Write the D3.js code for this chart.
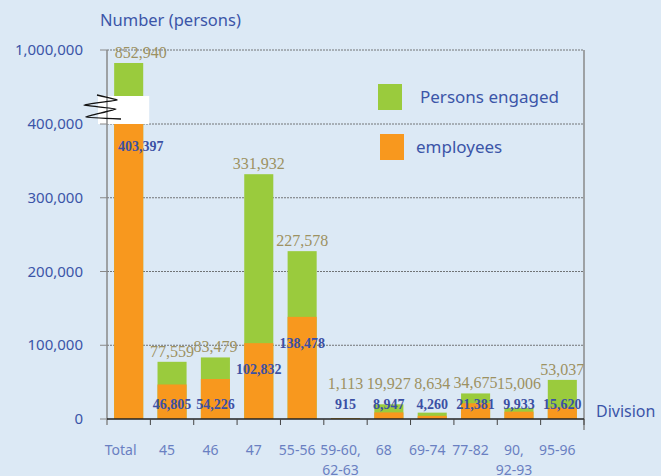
<!DOCTYPE html>
<html>
<head>
<meta charset="utf-8">
<script src="https://cdn.jsdelivr.net/npm/d3@7"></script>
<style>
  body { margin: 0; background: #dce9f5; }
  svg { display: block; }
</style>
</head>
<body>
<svg width="661" height="476"></svg>
<script>
// data
const divisions = ['Total', '45', '46', '47', '55-56', '59-60,|62-63', '68', '69-74', '77-82', '90,|92-93', '95-96'];
const personsEngaged = [852940, 77559, 83479, 331932, 227578, 1113, 19927, 8634, 34675, 15006, 53037];
const employees = [403397, 46805, 54226, 102832, 138478, 915, 8947, 4260, 21381, 9933, 15620];
const lowTicks = [0, 100000, 200000, 300000, 400000];
const highTicks = [1000000];

const green = '#9acb3d';
const orange = '#f8981e';
const blueText = '#3b55a8';
const sans = '"Noto Sans", "DejaVu Sans", sans-serif';
const serif = '"Liberation Serif", "DejaVu Serif", serif';
const fmt = d3.format(',');

const svg = d3.select('svg');

const left = 107, right = 584, bottom = 419;

const x = d3.scaleBand()
  .domain(divisions)
  .range([left, right])
  .paddingInner(0.33)
  .paddingOuter(0.165);

// broken y axis: lower part 0..400k, upper part 400k..1M
const yLow = d3.scaleLinear().domain([0, 400000]).range([bottom, 124]);
const yHigh = d3.scaleLinear().domain([400000, 1000000]).range([103, 50]);
const y = v => v <= 400000 ? yLow(v) : yHigh(v);

// gridlines
const grid = svg.append('g');
grid.selectAll('line')
  .data(lowTicks.slice(1).map(yLow).concat(highTicks.map(yHigh)))
  .enter().append('line')
    .attr('x1', left).attr('x2', right)
    .attr('y1', d => d).attr('y2', d => d)
    .attr('stroke', '#555')
    .attr('stroke-width', 0.8)
    .attr('stroke-dasharray', '2,1');

// right frame line
svg.append('line')
  .attr('x1', right).attr('x2', right)
  .attr('y1', yHigh(1000000)).attr('y2', bottom + 11)
  .attr('stroke', '#888').attr('stroke-width', 1.5);

// bars: green persons engaged behind, orange employees in front
const bars = svg.append('g');
bars.selectAll('.eng')
  .data(personsEngaged)
  .enter().append('rect')
    .attr('class', 'eng')
    .attr('x', (d, i) => x(divisions[i]))
    .attr('width', x.bandwidth())
    .attr('y', d => y(d))
    .attr('height', d => bottom - y(d))
    .attr('fill', green);

bars.selectAll('.emp')
  .data(employees)
  .enter().append('rect')
    .attr('class', 'emp')
    .attr('x', (d, i) => x(divisions[i]))
    .attr('width', x.bandwidth())
    .attr('y', d => y(d))
    .attr('height', d => bottom - y(d))
    .attr('fill', orange);

// axis break box
svg.append('rect')
  .attr('x', left - 9)
  .attr('y', yHigh(400000) - 7)
  .attr('width', x(divisions[0]) + x.bandwidth() + 6 - (left - 9))
  .attr('height', yLow(400000) - yHigh(400000) + 7)
  .attr('fill', '#fff');

// y axis line
svg.append('line')
  .attr('x1', left).attr('x2', left)
  .attr('y1', yHigh(1000000)).attr('y2', bottom + 6)
  .attr('stroke', '#888').attr('stroke-width', 1.5);

// y tick marks and labels
const yTicks = lowTicks.map(v => ({ v, y: yLow(v) }))
  .concat(highTicks.map(v => ({ v, y: yHigh(v) })));
const yt = svg.append('g');
yt.selectAll('line')
  .data(yTicks)
  .enter().append('line')
    .attr('x1', left - 7).attr('x2', left)
    .attr('y1', d => d.y).attr('y2', d => d.y)
    .attr('stroke', '#888').attr('stroke-width', 1);
yt.selectAll('text')
  .data(yTicks)
  .enter().append('text')
    .attr('x', 83)
    .attr('y', d => d.y + 5)
    .attr('text-anchor', 'end')
    .attr('font-family', sans)
    .attr('font-size', 15)
    .attr('fill', blueText)
    .text(d => fmt(d.v));

// break squiggle over the axis
const sq = [[97, 95], [117, 100], [84, 105], [116, 109], [86, 117], [121, 119]];
svg.append('path')
  .attr('d', d3.line().curve(d3.curveCardinal.tension(0.7))(sq))
  .attr('fill', 'none')
  .attr('stroke', '#111')
  .attr('stroke-width', 1.3);

// x axis
svg.append('line')
  .attr('x1', left).attr('x2', right)
  .attr('y1', bottom).attr('y2', bottom)
  .attr('stroke', '#222').attr('stroke-width', 1.5);

const xTickPos = divisions.map(d => x(d) - x.step() * x.paddingInner() / 2).slice(1).concat([right]);
svg.append('g').selectAll('line')
  .data(xTickPos)
  .enter().append('line')
    .attr('x1', d => d).attr('x2', d => d)
    .attr('y1', bottom).attr('y2', bottom + 6)
    .attr('stroke', '#444').attr('stroke-width', 1);

const labelX = (d, i) => x(d) + x.bandwidth() / 2 - (i === 0 ? 8 : 5);
const xl = svg.append('g').selectAll('text')
  .data(divisions)
  .enter().append('text')
    .attr('x', labelX)
    .attr('y', 455)
    .attr('text-anchor', 'middle')
    .attr('font-family', sans)
    .attr('font-size', 14)
    .attr('fill', '#6a80c2');
xl.each(function (d, i) {
  const parts = d.split('|');
  d3.select(this).selectAll('tspan')
    .data(parts)
    .enter().append('tspan')
      .attr('x', labelX(d, i))
      .attr('dy', (p, j) => j === 0 ? 0 : 20)
      .text(p => p);
});

// value labels
const empLabelY = employees.map(v => Math.min(y(v) + 26, 404));
svg.append('g').selectAll('text')
  .data(employees)
  .enter().append('text')
    .attr('x', (d, i) => x(divisions[i]) + x.bandwidth() / 2 + (i === 0 ? 12 : 0))
    .attr('y', (d, i) => (i === 0 ? yLow(400000) + 22 : empLabelY[i]) + 5)
    .attr('text-anchor', 'middle')
    .attr('font-family', serif)
    .attr('font-weight', 'bold')
    .attr('font-size', 14)
    .attr('fill', '#3b50a4')
    .text(d => fmt(d));

svg.append('g').selectAll('text')
  .data(personsEngaged)
  .enter().append('text')
    .attr('x', (d, i) => x(divisions[i]) + x.bandwidth() / 2 + (i === 0 ? 12 : 0))
    .attr('y', (d, i) => Math.min(y(d) - 10, empLabelY[i] - 20) + 5)
    .attr('text-anchor', 'middle')
    .attr('font-family', serif)
    .attr('font-size', 16)
    .attr('fill', '#9c9162')
    .text(d => fmt(d));

// axis titles
svg.append('text')
  .attr('x', 100).attr('y', 26)
  .attr('font-family', sans).attr('font-size', 16.5)
  .attr('fill', blueText)
  .text('Number (persons)');
svg.append('text')
  .attr('x', 596).attr('y', 417)
  .attr('font-family', sans).attr('font-size', 16)
  .attr('fill', blueText)
  .text('Division');

// legend
const legendItems = [
  { label: 'Persons engaged', color: green, x: 378, y: 84, tx: 420 },
  { label: 'employees', color: orange, x: 380, y: 134, tx: 416 }
];
const lg = svg.append('g').selectAll('g')
  .data(legendItems)
  .enter().append('g');
lg.append('rect')
  .attr('x', d => d.x).attr('y', d => d.y)
  .attr('width', 24).attr('height', 26)
  .attr('fill', d => d.color);
lg.append('text')
  .attr('x', d => d.tx).attr('y', d => d.y + 19)
  .attr('font-family', sans).attr('font-size', 17)
  .attr('fill', blueText)
  .text(d => d.label);
</script>
</body>
</html>
